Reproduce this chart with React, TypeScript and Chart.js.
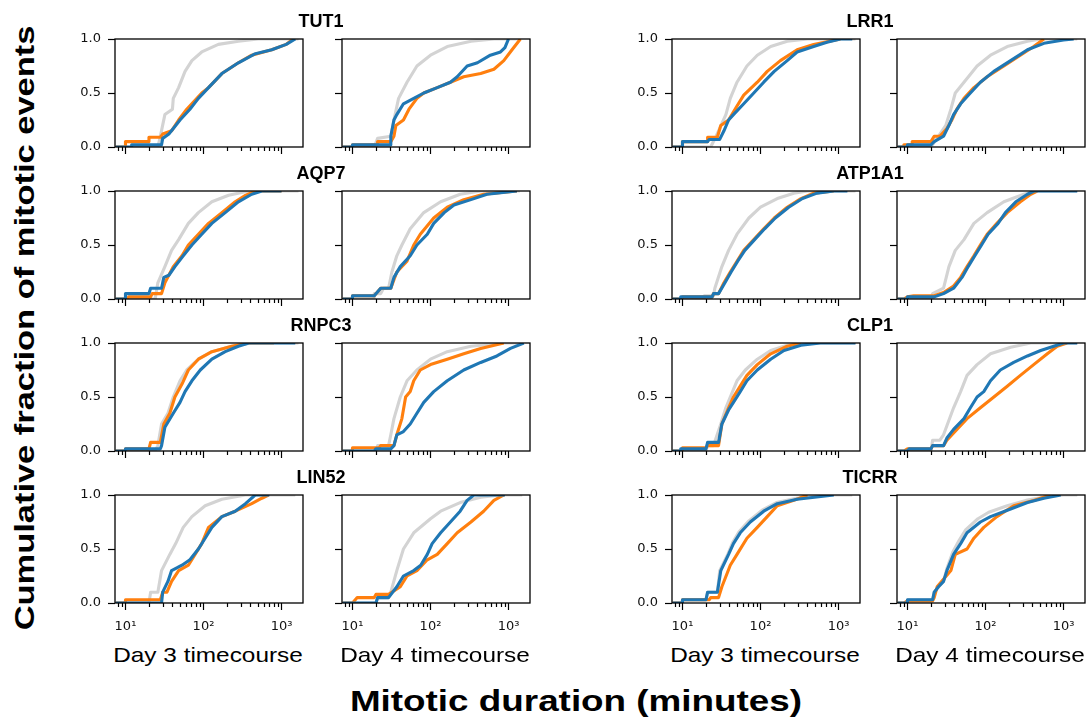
import React, { useEffect, useRef } from 'react';
import { Chart, registerables } from 'chart.js';

Chart.register(...registerables);

// ---------- data (minutes, cumulative fraction) ----------
const GENES = ['TUT1', 'LRR1', 'AQP7', 'ATP1A1', 'RNPC3', 'CLP1', 'LIN52', 'TICRR'];
const DAY_LABELS = ['Day 3 timecourse', 'Day 4 timecourse'];
const X_TICKS = [10, 100, 1000];
const X_TICK_LABELS = ['10¹', '10²', '10³'];
const X_MINOR_TICKS = [8, 9, 20, 30, 40, 50, 60, 70, 80, 90, 200, 300, 400, 500, 600, 700, 800, 900];
const Y_TICKS = [0, 0.5, 1];
const X_MIN = 7.34;
const X_MAX = 1886;

const TUT1_D3_CTRL = [[7.5,0],[26,0],[28,0.1],[32,0.3],[40,0.35],[41,0.45],[48,0.55],[58,0.7],[71,0.8],[95,0.88],[155,0.95],[280,0.98],[500,1],[1650,1]];
const TUT1_D3_A = [[7.5,0],[10,0],[10,0.05],[20,0.05],[20,0.09],[28,0.09],[30,0.12],[39,0.15],[48,0.25],[61,0.35],[95,0.5],[116,0.55],[172,0.68],[280,0.78],[415,0.85],[750,0.9],[1150,0.95],[1400,1]];
const TUT1_D3_B = [[7.5,0],[12,0],[12,0.02],[29,0.02],[30,0.08],[36,0.12],[42,0.18],[50,0.25],[67,0.35],[86,0.45],[116,0.55],[172,0.68],[280,0.78],[450,0.86],[750,0.9],[1150,0.95],[1500,1]];

const TUT1_D4_CTRL = [[7.5,0],[19,0],[21,0.08],[31,0.1],[34,0.25],[39,0.45],[50,0.6],[67,0.75],[100,0.85],[164,0.93],[330,0.98],[650,1],[1400,1]];
const TUT1_D4_A = [[7.5,0],[10,0],[10,0.02],[21,0.02],[21,0.05],[31,0.05],[34,0.1],[36,0.2],[45,0.25],[53,0.35],[67,0.45],[82,0.5],[122,0.55],[180,0.6],[267,0.65],[440,0.68],[650,0.72],[870,0.8],[1110,0.9],[1420,1]];
const TUT1_D4_B = [[7.5,0],[10,0],[10,0.02],[31,0.02],[31,0.1],[34,0.25],[37,0.3],[45,0.4],[61,0.45],[82,0.5],[122,0.55],[180,0.6],[220,0.65],[295,0.75],[400,0.78],[585,0.85],[790,0.88],[900,0.92],[1000,1]];

const LRR1_D3_CTRL = [[7.5,0],[23,0],[27,0.1],[36,0.3],[41,0.45],[50,0.6],[67,0.75],[91,0.85],[135,0.93],[220,0.98],[400,1],[1650,1]];
const LRR1_D3_A = [[7.5,0],[10,0],[10,0.05],[21,0.05],[21,0.09],[28,0.09],[31,0.2],[39,0.25],[50,0.38],[61,0.48],[91,0.6],[122,0.7],[180,0.8],[295,0.9],[480,0.95],[1060,1]];
const LRR1_D3_B = [[7.5,0],[10,0],[10,0.05],[21,0.05],[22,0.07],[30,0.07],[34,0.15],[39,0.25],[45,0.3],[61,0.4],[82,0.5],[110,0.6],[150,0.7],[220,0.8],[295,0.88],[480,0.93],[710,0.97],[1060,1],[1500,1]];

const LRR1_D4_CTRL = [[7.5,0],[20,0],[25,0.1],[31,0.2],[36,0.35],[41,0.5],[53,0.6],[78,0.75],[116,0.85],[190,0.93],[345,0.98],[510,1],[1500,1]];
const LRR1_D4_A = [[7.5,0],[9,0],[9,0.02],[11.5,0.02],[11.5,0.05],[20,0.05],[22,0.1],[26,0.1],[32,0.17],[37,0.25],[43,0.35],[53,0.45],[71,0.55],[105,0.65],[172,0.75],[280,0.85],[415,0.93],[560,1]];
const LRR1_D4_B = [[7.5,0],[10,0],[10,0.02],[20,0.02],[22,0.05],[29,0.1],[34,0.2],[39,0.3],[48,0.4],[64,0.5],[86,0.6],[128,0.7],[210,0.8],[345,0.9],[560,0.96],[1000,0.99],[1350,1]];

const AQP7_D3_CTRL = [[7.5,0],[24,0],[26,0.15],[32,0.3],[39,0.45],[48,0.55],[64,0.7],[86,0.8],[128,0.9],[210,0.96],[380,1],[1650,1]];
const AQP7_D3_A = [[7.5,0],[10.5,0],[11,0.02],[21,0.02],[22,0.05],[29,0.05],[32,0.15],[41,0.3],[53,0.4],[64,0.5],[86,0.6],[116,0.7],[172,0.8],[255,0.9],[345,0.96],[460,1],[1000,1]];
const AQP7_D3_B = [[7.5,0],[10,0],[10,0.05],[20,0.05],[21,0.1],[29,0.1],[31,0.2],[36,0.22],[43,0.3],[55,0.4],[71,0.5],[95,0.6],[128,0.7],[190,0.8],[280,0.9],[415,0.97],[560,1],[1000,1]];

const AQP7_D4_CTRL = [[7.5,0],[19,0],[19,0.05],[23,0.05],[25,0.1],[29,0.1],[32,0.25],[37,0.4],[43,0.5],[55,0.65],[82,0.8],[135,0.9],[240,0.97],[440,1],[1400,1]];
const AQP7_D4_A = [[7.5,0],[10,0],[10,0.03],[19,0.03],[23,0.1],[31,0.1],[37,0.25],[50,0.35],[61,0.5],[74,0.6],[110,0.75],[164,0.85],[267,0.92],[480,0.97],[1280,1]];
const AQP7_D4_B = [[7.5,0],[10,0],[10,0.03],[19,0.03],[23,0.1],[31,0.1],[34,0.2],[41,0.3],[55,0.4],[67,0.5],[91,0.6],[110,0.7],[150,0.8],[200,0.87],[330,0.92],[530,0.97],[1280,1]];

const ATP1A1_D3_CTRL = [[7.5,0],[19,0],[19,0.03],[25,0.03],[26,0.1],[32,0.3],[39,0.45],[50,0.6],[71,0.75],[100,0.85],[164,0.93],[267,0.98],[400,1],[1650,1]];
const ATP1A1_D3_A = [[7.5,0],[10,0],[10,0.02],[24,0.02],[25,0.05],[29,0.05],[34,0.15],[41,0.25],[50,0.35],[61,0.45],[82,0.55],[110,0.65],[150,0.75],[220,0.85],[330,0.93],[480,0.98],[870,1]];
const ATP1A1_D3_B = [[7.5,0],[9.5,0],[9.5,0.02],[24,0.02],[25,0.05],[29,0.05],[35,0.15],[42,0.25],[51,0.35],[63,0.45],[84,0.55],[113,0.65],[155,0.75],[230,0.85],[345,0.93],[530,0.98],[870,1],[1300,1]];

const ATP1A1_D4_CTRL = [[7.5,0],[20,0],[21,0.05],[29,0.1],[34,0.3],[41,0.45],[53,0.55],[71,0.7],[105,0.8],[172,0.9],[310,0.97],[460,1],[1500,1]];
const ATP1A1_D4_A = [[7.5,0],[9,0],[10,0.02],[12,0.03],[22,0.03],[29,0.06],[39,0.12],[48,0.2],[58,0.3],[71,0.4],[86,0.5],[105,0.6],[140,0.7],[190,0.8],[280,0.9],[380,0.97],[460,1]];
const ATP1A1_D4_B = [[7.5,0],[10,0],[10,0.02],[22,0.02],[29,0.05],[39,0.1],[50,0.2],[60,0.3],[73,0.4],[89,0.5],[108,0.6],[145,0.7],[180,0.8],[245,0.9],[345,0.97],[420,1],[1500,1]];

const RNPC3_D3_CTRL = [[7.5,0],[24,0],[26,0.05],[29,0.25],[35,0.35],[41,0.5],[50,0.65],[61,0.75],[86,0.85],[128,0.92],[230,0.97],[415,1],[1650,1]];
const RNPC3_D3_A = [[7.5,0],[10,0],[10,0.02],[20,0.02],[21,0.08],[28,0.08],[31,0.25],[37,0.35],[43,0.5],[53,0.62],[64,0.75],[86,0.85],[128,0.92],[230,0.97],[380,1],[800,1]];
const RNPC3_D3_B = [[7.5,0],[10,0],[10,0.02],[28,0.02],[29,0.05],[32,0.22],[41,0.35],[50,0.45],[58,0.55],[71,0.65],[91,0.75],[128,0.85],[190,0.92],[280,0.97],[380,1],[1500,1]];

const RNPC3_D4_CTRL = [[7.5,0],[20,0],[21,0.05],[29,0.05],[31,0.15],[34,0.3],[41,0.5],[50,0.65],[67,0.75],[100,0.85],[164,0.92],[330,0.97],[870,1],[1500,1]];
const RNPC3_D4_A = [[7.5,0],[10,0],[10,0.03],[22,0.03],[23,0.05],[34,0.05],[37,0.15],[43,0.3],[48,0.5],[55,0.55],[61,0.65],[74,0.75],[100,0.8],[164,0.85],[267,0.9],[440,0.95],[870,1]];
const RNPC3_D4_B = [[7.5,0],[19,0],[20,0.02],[31,0.02],[34,0.05],[37,0.15],[45,0.18],[55,0.25],[67,0.35],[82,0.45],[110,0.55],[164,0.65],[267,0.75],[440,0.82],[710,0.88],[1060,0.95],[1570,1]];

const CLP1_D3_CTRL = [[7.5,0],[20,0],[21,0.05],[25,0.05],[31,0.25],[36,0.4],[41,0.5],[50,0.65],[64,0.75],[91,0.85],[135,0.93],[220,0.98],[400,1],[1650,1]];
const CLP1_D3_A = [[7.5,0],[10,0],[10,0.03],[20,0.03],[21,0.05],[29,0.05],[32,0.25],[39,0.4],[45,0.5],[55,0.6],[67,0.7],[91,0.8],[135,0.9],[220,0.97],[330,1]];
const CLP1_D3_B = [[7.5,0],[9.5,0],[9.5,0.02],[20,0.02],[21,0.08],[29,0.08],[32,0.25],[39,0.38],[45,0.45],[55,0.55],[67,0.65],[91,0.75],[135,0.85],[200,0.93],[330,0.98],[585,1],[1650,1]];

const CLP1_D4_CTRL = [[7.5,0],[20,0],[21,0.1],[26,0.1],[29,0.15],[39,0.4],[48,0.55],[58,0.7],[78,0.8],[116,0.9],[210,0.96],[380,1],[1500,1]];
const CLP1_D4_A = [[7.5,0],[9,0],[10,0.02],[20,0.02],[21,0.05],[29,0.05],[32,0.1],[43,0.2],[58,0.3],[86,0.4],[128,0.5],[190,0.6],[280,0.7],[415,0.8],[620,0.9],[830,0.97],[1110,1]];
const CLP1_D4_B = [[7.5,0],[10,0],[10.5,0.02],[20,0.02],[21,0.05],[29,0.05],[32,0.12],[39,0.2],[53,0.3],[64,0.4],[78,0.5],[95,0.55],[116,0.65],[155,0.75],[230,0.82],[345,0.88],[510,0.93],[750,0.97],[1000,1],[1500,1]];

const LIN52_D3_CTRL = [[7.5,0],[20,0],[21,0.1],[26,0.1],[29,0.3],[37,0.45],[44,0.55],[55,0.7],[71,0.8],[105,0.9],[172,0.96],[345,1],[1500,1]];
const LIN52_D3_A = [[7.5,0],[10,0],[10,0.03],[28,0.03],[30,0.1],[34,0.1],[39,0.2],[48,0.3],[64,0.35],[78,0.45],[95,0.55],[116,0.7],[172,0.8],[255,0.85],[415,0.92],[560,0.97],[680,1]];
const LIN52_D3_B = [[7.5,0],[29,0],[30,0.1],[35,0.2],[39,0.3],[53,0.35],[67,0.4],[86,0.5],[105,0.6],[128,0.7],[172,0.8],[255,0.85],[345,0.92],[460,1],[700,1]];

const LIN52_D4_CTRL = [[7.5,0],[20,0],[21,0.05],[29,0.05],[31,0.1],[37,0.3],[45,0.5],[61,0.65],[100,0.78],[135,0.85],[240,0.93],[440,0.98],[790,1],[1500,1]];
const LIN52_D4_A = [[7.5,0],[10,0],[11.5,0.05],[19,0.05],[20,0.08],[29,0.08],[41,0.15],[50,0.25],[67,0.3],[91,0.4],[122,0.45],[164,0.55],[220,0.65],[330,0.75],[480,0.85],[650,0.95],[870,1]];
const LIN52_D4_B = [[7.5,0],[20,0],[21,0.05],[29,0.05],[37,0.15],[45,0.25],[61,0.3],[75,0.35],[91,0.45],[105,0.55],[135,0.65],[180,0.75],[240,0.85],[295,0.95],[360,1],[900,1]];

const TICRR_D3_CTRL = [[7.5,0],[10,0],[10,0.03],[20,0.03],[21,0.1],[28,0.1],[30,0.3],[38,0.45],[44,0.56],[53,0.66],[71,0.76],[105,0.86],[160,0.93],[290,0.97],[700,1],[1500,1]];
const TICRR_D3_A = [[7.5,0],[10,0],[10,0.03],[22,0.03],[23,0.05],[29,0.05],[32,0.15],[41,0.35],[50,0.45],[67,0.6],[91,0.7],[122,0.8],[164,0.9],[267,0.95],[400,1]];
const TICRR_D3_B = [[7.5,0],[10,0],[10,0.03],[20,0.03],[21,0.1],[28,0.1],[31,0.3],[39,0.45],[45,0.55],[55,0.65],[74,0.75],[110,0.85],[164,0.92],[295,0.96],[870,1]];

const TICRR_D4_CTRL = [[7.5,0],[10,0],[10,0.03],[21,0.03],[22,0.1],[25,0.15],[29,0.2],[32,0.32],[38,0.47],[46,0.58],[56,0.68],[80,0.78],[110,0.84],[190,0.9],[330,0.95],[560,0.98],[1000,1],[1500,1]];
const TICRR_D4_A = [[7.5,0],[9,0],[10,0.02],[21,0.02],[22,0.05],[24,0.15],[36,0.3],[41,0.45],[58,0.5],[71,0.6],[95,0.7],[140,0.8],[230,0.9],[415,0.95],[680,1]];
const TICRR_D4_B = [[7.5,0],[10,0],[10,0.03],[21,0.03],[22,0.1],[25,0.15],[29,0.2],[32,0.3],[39,0.45],[48,0.55],[58,0.65],[86,0.75],[116,0.8],[210,0.87],[345,0.93],[560,0.97],[920,1]];

const CURVES: Record<string, number[][][]> = {
  TUT1: [[TUT1_D3_CTRL, TUT1_D3_A, TUT1_D3_B], [TUT1_D4_CTRL, TUT1_D4_A, TUT1_D4_B]],
  LRR1: [[LRR1_D3_CTRL, LRR1_D3_A, LRR1_D3_B], [LRR1_D4_CTRL, LRR1_D4_A, LRR1_D4_B]],
  AQP7: [[AQP7_D3_CTRL, AQP7_D3_A, AQP7_D3_B], [AQP7_D4_CTRL, AQP7_D4_A, AQP7_D4_B]],
  ATP1A1: [[ATP1A1_D3_CTRL, ATP1A1_D3_A, ATP1A1_D3_B], [ATP1A1_D4_CTRL, ATP1A1_D4_A, ATP1A1_D4_B]],
  RNPC3: [[RNPC3_D3_CTRL, RNPC3_D3_A, RNPC3_D3_B], [RNPC3_D4_CTRL, RNPC3_D4_A, RNPC3_D4_B]],
  CLP1: [[CLP1_D3_CTRL, CLP1_D3_A, CLP1_D3_B], [CLP1_D4_CTRL, CLP1_D4_A, CLP1_D4_B]],
  LIN52: [[LIN52_D3_CTRL, LIN52_D3_A, LIN52_D3_B], [LIN52_D4_CTRL, LIN52_D4_A, LIN52_D4_B]],
  TICRR: [[TICRR_D3_CTRL, TICRR_D3_A, TICRR_D3_B], [TICRR_D4_CTRL, TICRR_D4_A, TICRR_D4_B]],
};

// ---------- styling / layout ----------
const CTRL_COLOR = '#d3d3d3';
const A_COLOR = '#ff7f0e';
const B_COLOR = '#1f77b4';
const AX_LEFT = [115, 342, 672, 897];
const AX_TOP = [39, 191, 343, 495];
const AX_W = 188;
const AX_H = 108;
const PAD_L = 60;
const PAD_R = 8;
const PAD_T = 10;
const TITLE_X = [321, 870];
const TICK_FONT = { family: '"DejaVu Sans", sans-serif', size: 13 };

const framePlugin = {
  id: 'frameAndMinorTicks',
  afterDraw(chart: any) {
    const { ctx, chartArea: a } = chart;
    const x = chart.scales.x;
    ctx.save();
    ctx.strokeStyle = '#000';
    ctx.lineWidth = 1.2;
    for (const v of X_MINOR_TICKS) {
      const px = Math.round(x.getPixelForValue(v)) + 0.5;
      if (px < a.left || px > a.right) continue;
      ctx.beginPath();
      ctx.moveTo(px, a.bottom);
      ctx.lineTo(px, a.bottom + 4);
      ctx.stroke();
    }
    ctx.lineWidth = 1.3;
    ctx.strokeRect(a.left, a.top, a.right - a.left, a.bottom - a.top);
    ctx.restore();
  },
};

function Panel({ gene, day, row, col }: { gene: string; day: number; row: number; col: number }) {
  const ref = useRef<HTMLCanvasElement>(null);
  const bottomRow = row === 3;
  const showY = day === 0;
  const padB = bottomRow ? 40 : 14;
  const w = PAD_L + AX_W + PAD_R;
  const h = PAD_T + AX_H + padB;

  useEffect(() => {
    const [ctrl, a, b] = CURVES[gene][day];
    const ds = (arr: number[][], color: string, order: number) => ({
      data: arr.map(([x, y]) => ({ x, y })),
      borderColor: color,
      borderWidth: 3.1,
      pointRadius: 0,
      tension: 0,
      fill: false,
      order,
      borderJoinStyle: 'round',
      borderCapStyle: 'butt',
    });
    const chart = new Chart(ref.current as HTMLCanvasElement, {
      type: 'line',
      data: { datasets: [ds(ctrl, CTRL_COLOR, 3), ds(a, A_COLOR, 2), ds(b, B_COLOR, 1)] as any },
      options: {
        animation: false,
        responsive: false,
        devicePixelRatio: 1,
        layout: { padding: { top: PAD_T, right: PAD_R, left: 0, bottom: 0 } },
        plugins: { legend: { display: false }, tooltip: { enabled: false } },
        events: [],
        scales: {
          x: {
            type: 'logarithmic',
            position: 'bottom',
            min: X_MIN,
            max: X_MAX,
            afterFit: (s: any) => { s.height = padB; s.paddingLeft = 0; s.paddingRight = 0; },
            afterBuildTicks: (s: any) => { s.ticks = X_TICKS.map((v) => ({ value: v })); },
            ticks: {
              autoSkip: false,
              maxRotation: 0,
              padding: 9,
              color: '#111',
              font: TICK_FONT,
              callback: (v: any) => (bottomRow ? X_TICK_LABELS[X_TICKS.indexOf(Number(v))] ?? '' : ''),
            },
            grid: { display: true, drawOnChartArea: false, drawTicks: true, tickLength: 7, tickWidth: 1.2, tickColor: '#000' },
            border: { display: false },
          },
          y: {
            type: 'linear',
            min: 0,
            max: 1,
            afterFit: (s: any) => { s.width = PAD_L; s.paddingTop = 0; s.paddingBottom = 0; },
            afterBuildTicks: (s: any) => { s.ticks = Y_TICKS.map((v) => ({ value: v })); },
            ticks: {
              padding: 7,
              color: '#111',
              font: TICK_FONT,
              callback: (v: any) => (showY ? Number(v).toFixed(1) : ''),
            },
            grid: { display: true, drawOnChartArea: false, drawTicks: true, tickLength: 7, tickWidth: 1.2, tickColor: '#000' },
            border: { display: false },
          },
        },
      } as any,
      plugins: [framePlugin],
    });
    return () => chart.destroy();
  }, []);

  return (
    <canvas
      ref={ref}
      width={w}
      height={h}
      style={{ position: 'absolute', left: AX_LEFT[col] - PAD_L, top: AX_TOP[row] - PAD_T, width: w, height: h }}
    />
  );
}

export default function App() {
  const panels: { gene: string; day: number; row: number; col: number }[] = [];
  GENES.forEach((gene, g) => {
    const row = Math.floor(g / 2);
    const group = g % 2;
    [0, 1].forEach((day) => panels.push({ gene, day, row, col: group * 2 + day }));
  });

  return (
    <div style={{ position: 'absolute', left: 0, top: 0, width: 1090, height: 723, overflow: 'hidden', background: '#fff' }}>
      {panels.map((p) => (
        <Panel key={p.gene + p.day} {...p} />
      ))}
      {GENES.map((gene, g) => (
        <div
          key={'t' + gene}
          style={{
            position: 'absolute',
            left: TITLE_X[g % 2],
            top: AX_TOP[Math.floor(g / 2)] - 27,
            transform: 'translateX(-50%)',
            font: 'bold 18px "Liberation Sans", Arial, sans-serif',
            lineHeight: '18px',
            whiteSpace: 'nowrap',
            color: '#000',
          }}
        >
          {gene}
        </div>
      ))}
      {AX_LEFT.map((l, c) => (
        <div
          key={'d' + c}
          style={{
            position: 'absolute',
            left: l + AX_W / 2 - 1,
            top: 644,
            transform: 'translateX(-50%) scaleX(1.16)',
            font: '21px "Liberation Sans", Arial, sans-serif',
            lineHeight: '21px',
            whiteSpace: 'nowrap',
            color: '#000',
          }}
        >
          {DAY_LABELS[c % 2]}
        </div>
      ))}
      <div
        style={{
          position: 'absolute',
          left: 576,
          top: 687,
          transform: 'translateX(-50%) scaleX(1.27)',
          font: 'bold 29px "Liberation Sans", Arial, sans-serif',
          lineHeight: '29px',
          whiteSpace: 'nowrap',
          color: '#000',
        }}
      >
        Mitotic duration (minutes)
      </div>
      <div
        style={{
          position: 'absolute',
          left: 25,
          top: 328,
          transform: 'translate(-50%, -50%) rotate(-90deg) scaleX(1.23)',
          font: 'bold 28px "Liberation Sans", Arial, sans-serif',
          lineHeight: '28px',
          whiteSpace: 'nowrap',
          color: '#000',
        }}
      >
        Cumulative fraction of mitotic events
      </div>
    </div>
  );
}
